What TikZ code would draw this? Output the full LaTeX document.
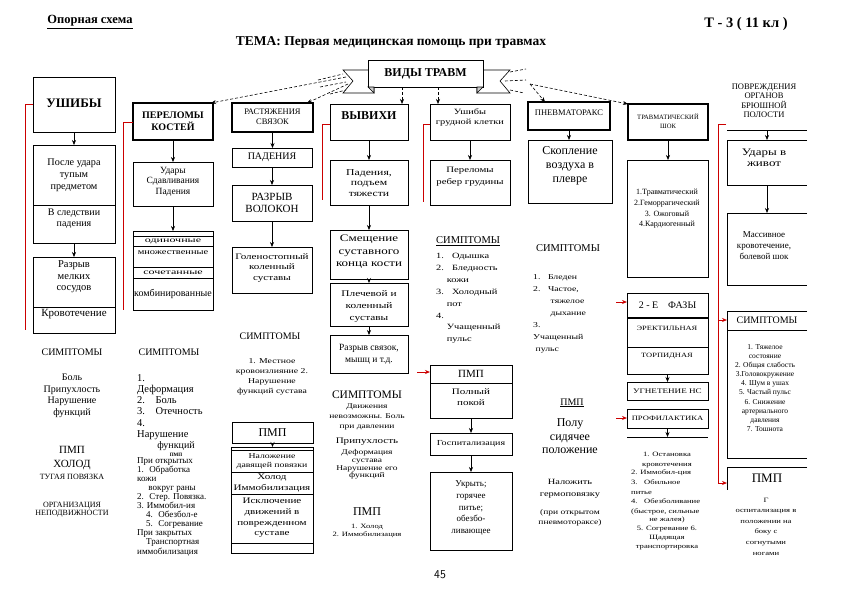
\documentclass[tikz,border=0pt]{standalone}
\usepackage{fontspec}
\setmainfont{Liberation Serif}
\newfontfamily\swide[FakeStretch=1.3]{Liberation Serif}
\newfontfamily\sxwide[FakeStretch=1.6]{Liberation Serif}
\usetikzlibrary{arrows.meta,calc}
\newcommand\fsz[2]{\fontsize{#1}{#2}\selectfont}
\tikzset{
  box/.style={draw, line width=0.6pt, inner sep=0pt, outer sep=0pt},
  sbox/.style={box, line width=1.2pt},
  arr/.style={-{Stealth[length=5pt,width=4pt]}, line width=0.6pt},
  darr/.style={arr, dash pattern=on 3pt off 2pt},
  dsh/.style={line width=0.6pt, dash pattern=on 3pt off 2pt},
  redl/.style={draw=red!80!black, line width=0.9pt},
  rarr/.style={redl, -{Stealth[length=5pt,width=4pt]}},
  t/.style={inner sep=0pt, align=center},
  tl/.style={inner sep=0pt, align=left, anchor=west},
}
\newcommand\mybox[5][]{\node[box,anchor=north west,minimum width=#4pt,minimum height=#5pt,#1] (#2) at (#3) {};}
\newcommand\openbx[4]{\node[anchor=north west,minimum width=#3pt,minimum height=#4pt,inner sep=0pt,outer sep=0pt] (#1) at (#2) {};
  \draw[line width=0.6pt] (#1.north east) -- (#1.north west) -- (#1.south west) -- (#1.south east);}
\newcommand\hdiv[2]{\draw[line width=0.6pt] ($(#1.north west)+(0,#2)$) -- ($(#1.north east)+(0,#2)$);}
\begin{document}
\begin{tikzpicture}[x=1pt,y=-1pt]
\useasboundingbox (0,0) rectangle (841,595);
\fill[white] (0,0) rectangle (841,595);

% titles
\node[t,font={\fsz{12.5}{14}\bfseries}] (ttl) at (90,22) {\underline{Опорная схема}};
\node[t,font={\fsz{14.5}{16}\bfseries}] (tnum) at (746,24) {Т - 3 ( 11 кл )};
\node[t,font={\fsz{13.5}{15}\bfseries}] (tema) at (391,42) {ТЕМА: Первая медицинская помощь при травмах};

% banner
\draw[line width=0.6pt, fill=white] (374,70) -- (343,70) -- (353,81) -- (343,93) -- (374,93) -- cycle;
\draw[line width=0.6pt, fill=white] (477,70) -- (510,70) -- (500,81) -- (510,93) -- (477,93) -- cycle;
\node[box, fill=white, anchor=north west, minimum width=115pt, minimum height=27pt, font={\fsz{12}{14}\bfseries}] (vid) at (368,60) {ВИДЫ ТРАВМ};
\draw[line width=0.6pt, fill=gray!40] (vid.south west) -- (374,93) -- (374,87) -- cycle;
\draw[line width=0.6pt, fill=gray!40] (vid.south east) -- (477,93) -- (477,87) -- cycle;

% ---------- column 1
\mybox{ush}{33,77}{82}{55}
\node[t,font={\fsz{13}{15}\bfseries}] (ushT) at (74,103) {УШИБЫ};
\mybox{b1}{33,145}{82}{98}
\hdiv{b1}{60}
\node[t,font={\fsz{10.2}{12}}] (b1a) at (74,175) {После удара\\тупым\\предметом};
\node[t,font={\fsz{10}{11}}] (b1b) at (74,218.5) {В следствии\\падения};
\mybox{b2}{33,257}{82}{76}
\hdiv{b2}{50}
\node[t,font={\fsz{10.5}{11.5}}] (b2a) at (74,277) {Разрыв\\мелких\\сосудов};
\node[t,font={\fsz{11}{12}}] (b2b) at (74,314) {Кровотечение};
\draw[arr] (ush.south) -- (ush.south |- b1.north);
\draw[arr] (b1.south) -- (b1.south |- b2.north);
\draw[redl] (33,104) -- (25,104) -- (25,330);
\node[t,font={\fsz{10}{11}}] (s1) at (72,352) {СИМПТОМЫ};
\node[t,font={\fsz{10}{11.5}}] (s1l) at (72,396) {Боль\\Припухлость\\Нарушение\\функций};
\node[t,font={\fsz{11}{12}}] (p1) at (72,450) {ПМП};
\node[t,font={\fsz{11}{13}}] (p1a) at (72,465) {ХОЛОД};
\node[t,font={\fsz{8}{9}}] (p1b) at (72,477) {ТУГАЯ ПОВЯЗКА};
\node[t,font={\fsz{8}{8.5}}] (p1c) at (72,509.5) {ОРГАНИЗАЦИЯ\\НЕПОДВИЖНОСТИ};

% ---------- column 2
\mybox[sbox]{per}{133,103}{80}{37}
\node[t,font={\fsz{10}{12}\bfseries}] (perT) at (173,121) {ПЕРЕЛОМЫ\\КОСТЕЙ};
\mybox{c2}{133,162}{80}{44}
\node[t,font={\fsz{9.5}{10.5}}] (c2T) at (173,181.5) {Удары\\Сдавливания\\Падения};
\mybox{c3}{133,231}{80}{79}
\hdiv{c3}{5}\hdiv{c3}{15}\hdiv{c3}{36}\hdiv{c3}{47}
\node[t,font={\sxwide\fsz{7.5}{9}}] (c3a) at (173,241) {одиночные};
\node[t,font={\swide\fsz{8}{9}}] (c3b) at (173,252.5) {множественные};
\node[t,font={\sxwide\fsz{7.5}{9}}] (c3c) at (173,272.5) {сочетанные};
\node[t,font={\fsz{10}{11}}] (c3d) at (173,294) {комбинированные};
\draw[arr] (per.south) -- (per.south |- c2.north);
\draw[arr] (c2.south) -- (c2.south |- c3.north);
\draw[redl] (133,122) -- (123,122) -- (123,310);
\node[t,font={\fsz{10}{11}}] (s2) at (169,352) {СИМПТОМЫ};
\node[tl,font={\fsz{10.5}{11.2}}] (s2l) at (137,407) {1.\\Деформация\\2.\quad Боль\\3.\quad Отечность\\4.\\Нарушение};
\node[t,font={\fsz{10}{10}}] (s2f) at (176,446) {функций};
\node[t,font={\fsz{5}{5}\bfseries}] (s2p) at (176,454.5) {ПМП};
\node[tl,font={\fsz{9}{9.1}}] (s2m) at (137,506.5) {При открытых\\1.\; Обработка\\кожи\\\quad\ вокруг раны\\2.\; Стер. Повязка.\\3. Иммобил-ия\\\quad 4.\; Обезбол-е\\\quad 5.\; Согревание\\При закрытых\\\quad Транспортная\\иммобилизация};

% ---------- column 3
\mybox[sbox]{ras}{232,103}{81}{29}
\node[t,font={\fsz{8.5}{10}}] (rasT) at (272.5,117) {РАСТЯЖЕНИЯ\\СВЯЗОК};
\mybox{pad}{232,148}{80}{19}
\node[t,font={\fsz{10}{11}}] (padT) at (pad.center) {ПАДЕНИЯ};
\mybox{raz}{232,185}{80}{36}
\node[t,font={\fsz{11}{12}}] (razT) at (272,203) {РАЗРЫВ\\ВОЛОКОН};
\mybox{gol}{232,247}{80}{46}
\node[t,font={\swide\fsz{8.5}{10.5}}] (golT) at (272,268) {Голеностопный\\коленный\\суставы};
\draw[arr] (ras.south) -- (ras.south |- pad.north);
\draw[arr] (pad.south) -- (pad.south |- raz.north);
\draw[arr] (raz.south) -- (raz.south |- gol.north);
\node[t,font={\fsz{10}{11}}] (s3) at (270,336) {СИМПТОМЫ};
\node[t,font={\swide\fsz{7.5}{10}}] (s3l) at (272,377) {1. Местное\\кровоизлияние 2.\\Нарушение\\функций сустава};
\mybox{pm3}{232,422}{81}{21}
\node[t,font={\fsz{12}{13}}] (pm3T) at (pm3.center) {ПМП};
\mybox{tb}{231,447}{82}{106}
\hdiv{tb}{3}\hdiv{tb}{25}\hdiv{tb}{47}\hdiv{tb}{96}
\node[t,font={\swide\fsz{7.5}{9}}] (tbA) at (272,461) {Наложение\\давящей повязки};
\node[t,font={\swide\fsz{8.5}{11}}] (tbB) at (272,483) {Холод\\Иммобилизация};
\node[t,font={\swide\fsz{8.5}{10.6}}] (tbC) at (272,518) {Исключение\\движений в\\поврежденном\\суставе};
\draw[arr] (pm3.south) -- (pm3.south |- tb.north);

% ---------- column 4
\mybox{vyv}{330,104}{78}{36}
\node[t,font={\fsz{12}{14}\bfseries}] (vyvT) at (369,116) {ВЫВИХИ};
\mybox{pd4}{330,160}{78}{45}
\node[t,font={\swide\fsz{9}{10.5}}] (pd4T) at (369,183) {Падения,\\подъем\\тяжести};
\mybox{sm}{330,230}{78}{49}
\node[t,font={\swide\fsz{10}{12.5}}] (smT) at (369,252) {Смещение\\суставного\\конца кости};
\mybox{pl}{330,283}{78}{43}
\node[t,font={\swide\fsz{8.7}{12}}] (plT) at (369,306) {Плечевой и\\коленный\\суставы};
\mybox{rz}{330,335}{78}{38}
\node[t,font={\fsz{9.5}{12}}] (rzT) at (369,354) {Разрыв связок,\\мышц и т.д.};
\draw[arr] (vyv.south) -- (vyv.south |- pd4.north);
\draw[arr] (pd4.south) -- (pd4.south |- sm.north);
\draw[arr] (sm.south) -- (sm.south |- pl.north);
\draw[arr] (pl.south) -- (pl.south |- rz.north);
\draw[redl] (330,124) -- (322,124) -- (322,200);
\node[t,font={\fsz{11.5}{12}}] (s4) at (367,395) {СИМПТОМЫ};
\node[t,font={\swide\fsz{7.3}{10}}] (s4a) at (367,417) {Движения\\невозможны. Боль\\при давлении};
\node[t,font={\swide\fsz{8.5}{9}}] (s4b) at (367,442) {Припухлость};
\node[t,font={\swide\fsz{7.3}{7.8}}] (s4c) at (367,464.5) {Деформация\\сустава\\Нарушение его\\функций};
\node[t,font={\fsz{12}{13}}] (p4) at (367,512) {ПМП};
\node[t,font={\swide\fsz{6.6}{8}}] (p4a) at (367,531) {1. Холод\\2. Иммобилизация};

% ---------- column 5
\mybox{ugk}{430,104}{80}{36}
\node[t,font={\swide\fsz{8}{10}}] (ugkT) at (470,117) {Ушибы\\грудной клетки};
\mybox{prb}{430,160}{80}{45}
\node[t,font={\swide\fsz{8.3}{12}}] (prbT) at (470,177) {Переломы\\ребер грудины};
\draw[arr] (ugk.south) -- (ugk.south |- prb.north);
\draw[redl] (430,124) -- (423,124) -- (423,202);
\node[tl,font={\fsz{10.5}{11}}] (s5) at (436,241) {\underline{СИМПТОМЫ}};
\node[tl,font={\swide\fsz{8}{11.86}}] (s5l) at (436,298.5) {1.\quad Одышка\\2.\quad Бледность\\\quad\ кожи\\3.\quad Холодный\\\quad\ пот\\4.\\\quad\ Учащенный\\\quad\ пульс};
\mybox{pm5}{430,365}{82}{53}
\hdiv{pm5}{18}
\node[t,font={\fsz{11}{12}}] (pm5T) at (471,374) {ПМП};
\node[t,font={\swide\fsz{8.5}{11}}] (pm5B) at (471,397.5) {Полный\\покой};
\mybox{gos}{430,433}{82}{22}
\node[t,font={\swide\fsz{7.7}{8}}] (gosT) at (gos.center) {Госпитализация};
\mybox{uk}{430,472}{82}{78}
\node[t,font={\fsz{9}{11.9}}] (ukT) at (471,508) {Укрыть;\\горячее\\питье;\\обезбо-\\ливающее};
\draw[arr] (pm5.south) -- (pm5.south |- gos.north);
\draw[arr] (gos.south) -- (gos.south |- uk.north);
\coordinate (r5) at (417,372);
\draw[rarr] (r5) -- (r5 -| pm5.west);
\node[t,font={\sffamily\fsz{12}{13}}] (pg) at (440,575) {45};

% ---------- column 6
\mybox[sbox]{pnx}{528,102}{82}{28}
\node[t,font={\fsz{8.5}{9}}] (pnxT) at (569,113) {ПНЕВМАТОРАКС};
\mybox{sko}{528,140}{84}{63}
\node[t,font={\fsz{12}{14}}] (skoT) at (570,166) {Скопление\\воздуха в\\плевре};
\draw[arr] (pnx.south) -- (pnx.south |- sko.north);
\node[t,font={\fsz{10.5}{11}}] (s6) at (568,248) {СИМПТОМЫ};
\node[tl,font={\swide\fsz{7.5}{12}}] (s6l) at (533,314) {1.\quad Бледен\\2.\quad Частое,\\\qquad\ тяжелое\\\qquad\ дыхание\\3.\\Учащенный\\\ пульс};
\node[t,font={\fsz{10}{11}}] (p6) at (572,403) {\underline{ПМП}};
\node[t,font={\fsz{12}{13.5}}] (p6a) at (570,436.5) {Полу\\сидячее\\положение};
\node[t,font={\swide\fsz{8}{12}}] (p6b) at (570,489) {Наложить\\гермоповязку};
\node[t,font={\swide\fsz{7.3}{10}}] (p6c) at (570,518) {(при открытом\\пневмотораксе)};

% ---------- column 7
\mybox[sbox]{shk}{628,104}{80}{36}
\node[t,font={\fsz{6.6}{9}}] (shkT) at (668,121.5) {ТРАВМАТИЧЕСКИЙ\\ШОК};
\mybox{typ}{627,160}{81}{117}
\node[t,font={\fsz{8}{10.7}}] (typT) at (667,209) {1.Травматический\\2.Геморрагический\\3. Ожоговый\\4.Кардиогенный};
\draw[arr] (shk.south) -- (shk.south |- typ.north);
\mybox{fz}{627,293}{81}{25}
\node[t,font={\fsz{10}{11}}] (fzT) at (fz.center) {2 - Е\quad ФАЗЫ};
\mybox{ft}{627,318}{81}{56}
\draw[line width=1.6pt] (ft.north west) -- (ft.north east);
\hdiv{ft}{29}
\node[t,font={\swide\fsz{6.5}{8}}] (ftA) at (667,328) {ЭРЕКТИЛЬНАЯ};
\node[t,font={\swide\fsz{6.5}{8}}] (ftB) at (667,356) {ТОРПИДНАЯ};
\mybox{ug}{627,382}{81}{18}
\node[t,font={\swide\fsz{7}{8}}] (ugT) at (ug.center) {УГНЕТЕНИЕ НС};
\draw[arr] (ft.south) -- (ft.south |- ug.north);
\mybox{pro}{627,409}{81}{19}
\node[t,font={\swide\fsz{6.6}{8}}] (proT) at (pro.center) {ПРОФИЛАКТИКА};
\node[anchor=north west,minimum width=81pt,minimum height=0pt,inner sep=0pt,outer sep=0pt] (plin) at (627,437) {};
\draw[line width=0.6pt] (plin.west) -- (plin.east);
\draw[arr] (pro.south) -- (pro.south |- plin.north);
\coordinate (r7a) at (616,302);
\draw[rarr] (r7a) -- (r7a -| fz.west);
\coordinate (r7b) at (616,418);
\draw[rarr] (r7b) -- (r7b -| pro.west);
\node[t,font={\swide\fsz{6.6}{9.3}}] (sh1) at (667,460) {1. Остановка\\кровотечения};
\node[tl,font={\swide\fsz{6.6}{9.7}}] (sh2) at (631,492.5) {2. Иммобил-ция\\3.\quad Обильное\\питье\\4.\quad Обезболивание\\(быстрое, сильные};
\node[t,font={\swide\fsz{6.6}{9}}] (sh3) at (667,533.5) {не жалея)\\5. Согревание 6.\\Щадящая\\транспортировка};

% ---------- column 8
\node[t,font={\fsz{8.5}{9.5}}] (h8) at (764,100.5) {ПОВРЕЖДЕНИЯ\\ОРГАНОВ\\БРЮШНОЙ\\ПОЛОСТИ};
\node[anchor=north west,minimum width=80pt,minimum height=0pt,inner sep=0pt,outer sep=0pt] (top8) at (727,130) {};
\draw[line width=0.6pt] (top8.west) -- (top8.east);
\openbx{ud}{727,140}{80}{45}
\node[t,font={\swide\fsz{10}{11}}] (udT) at (764,157.5) {Удары в\\живот};
\draw[arr] (top8.center) -- (top8.center |- ud.north);
\openbx{mas}{727,213}{80}{72}
\node[t,font={\fsz{9}{11}}] (masT) at (764,246) {Массивное\\кровотечение,\\болевой шок};
\draw[arr] (ud.south) -- (ud.south |- mas.north);
\openbx{sym8}{727,311}{80}{19}
\node[t,font={\fsz{10}{11}}] (sym8T) at (sym8.center) {СИМПТОМЫ};
\openbx{sy8b}{727,330}{80}{128}
\node[t,font={\fsz{7.5}{9.1}}] (sy8T) at (765,388) {1. Тяжелое\\состояние\\2. Общая слабость\\3.Головокружение\\4. Шум в ушах\\5. Частый пульс\\6. Снижение\\артериального\\давления\\7. Тошнота};
\node[anchor=north west,minimum width=80pt,minimum height=23pt,inner sep=0pt,outer sep=0pt] (pm8) at (727,467) {};
\draw[line width=0.6pt] (pm8.north east) -- (pm8.north west) -- (pm8.south west);
\node[t,font={\fsz{13}{14}}] (pm8T) at (767,478) {ПМП};
\node[t,font={\swide\fsz{6.6}{10.6}}] (pm8B) at (766,526.5) {Г\\оспитализация в\\положении на\\боку с\\согнутыми\\ногами};
\coordinate (r8top) at (718,124);
\coordinate (r8b) at (718,483);
\coordinate (r8m) at (718,320);
\draw[redl] ($(r8top)+(8,0)$) -- (r8top) -- (r8b);
\draw[rarr] (r8m) -- (r8m -| sym8.west);
\draw[rarr] (r8b) -- (r8b -| pm8.west);

% ---------- dashed fans
\coordinate (fl1) at (346,77);
\coordinate (fl2) at (348,84);
\draw[darr] (fl1) -- ($(per.north east)+(-2,0)$);
\draw[darr] (fl2) -- ($(ras.north east)+(-6,0)$);
\draw[dsh] (318,80) -- (343,74);
\draw[dsh] (320,87) -- (346,82);
\draw[dsh] (330,94) -- (346,90);
\draw[dsh] (510,72) -- (526,69);
\draw[dsh] (505,81) -- (526,80);
\draw[dsh] (510,90) -- (524,93);
\coordinate (fr) at (530,84);
\draw[darr] (fr) -- ($(pnx.north west)+(17,0)$);
\draw[darr] (fr) -- (shk.north west);
\coordinate (dv1) at (402,87);
\draw[darr] (dv1) -- (dv1 |- vyv.north);
\coordinate (dv2) at (438,87);
\draw[darr] (dv2) -- (dv2 |- ugk.north);
\end{tikzpicture}
\end{document}
